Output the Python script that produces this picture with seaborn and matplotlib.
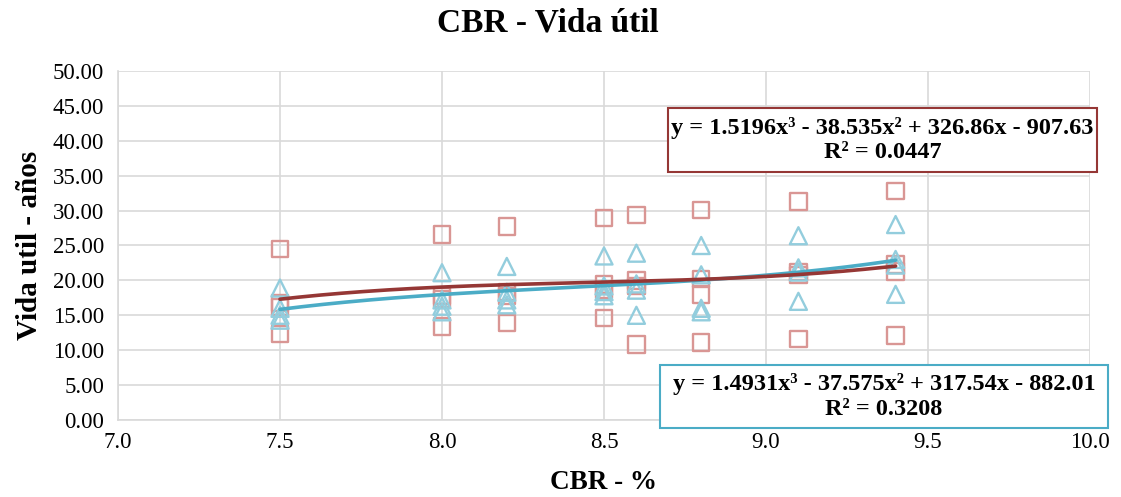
import numpy as np
import pandas as pd
import matplotlib
matplotlib.use("Agg")
import matplotlib.pyplot as plt
from matplotlib.patches import Rectangle
import seaborn as sns

# CBR values (%) and service life (years) for the two series
cbr = [7.5, 8.0, 8.2, 8.5, 8.6, 8.8, 9.1, 9.4]

vida_cuadrados = [
    [24.5, 16.8, 16.2, 12.3],
    [26.6, 17.8, 17.3, 13.4],
    [27.7, 18.3, 17.8, 13.9],
    [28.9, 19.4, 18.6, 14.6],
    [29.4, 20.0, 19.2, 10.8],
    [30.1, 20.2, 18.0, 11.1],
    [31.3, 21.2, 20.8, 11.6],
    [32.8, 22.3, 21.3, 12.1],
]

vida_triangulos = [
    [18.9, 16.0, 15.0, 14.3],
    [21.1, 17.2, 16.3, 15.5],
    [22.0, 18.3, 17.2, 16.5],
    [23.5, 19.2, 18.4, 17.8],
    [23.9, 19.5, 18.6, 15.0],
    [25.0, 20.8, 16.0, 15.5],
    [26.4, 21.8, 21.2, 17.0],
    [28.0, 23.0, 22.2, 18.0],
]

# Cubic trend-line coefficients (highest power first) and R²
coef_rojo = [1.5196, -38.535, 326.86, -907.63]
r2_rojo = 0.0447
coef_azul = [1.4931, -37.575, 317.54, -882.01]
r2_azul = 0.3208

x_ticks = [7.0, 7.5, 8.0, 8.5, 9.0, 9.5, 10.0]
y_ticks = [0, 5, 10, 15, 20, 25, 30, 35, 40, 45, 50]

titulo = "CBR - Vida útil"
etiqueta_x = "CBR - %"
etiqueta_y = "Vida util - años"

ROJO_MARCA = "#D99694"
AZUL_MARCA = "#93CDDD"
ROJO_LINEA = "#953735"
AZUL_LINEA = "#4BACC6"
GRIS = "#D9D9D9"

W, H = 1121, 497


def long_form(xs, rows, name):
    recs = []
    for x, vals in zip(xs, rows):
        for v in vals:
            recs.append({"cbr": x, "vida": v, "serie": name})
    return pd.DataFrame(recs)


def eq_text(coef, r2):
    a, b, c, d = coef
    sb = "-" if b < 0 else "+"
    sc = "-" if c < 0 else "+"
    sd = "-" if d < 0 else "+"
    return (f"y = {a:.4f}x³ {sb} {abs(b):.3f}x² {sc} {abs(c):.2f}x {sd} {abs(d):.2f}\n"
            f"R² = {r2:.4f}")


def label_box(fig, text, x0, y0, x1, y1, edge):
    # box given in pixels from the top-left corner of the figure
    fig.add_artist(Rectangle((x0 / W, 1 - y1 / H), (x1 - x0) / W, (y1 - y0) / H,
                             transform=fig.transFigure, facecolor="white",
                             edgecolor=edge, linewidth=1.5, zorder=5))
    fig.text((x0 + x1) / 2 / W, 1 - (y0 + y1) / 2 / H, text, ha="center", va="center",
             ma="center", fontsize=17.5, fontweight="bold", linespacing=1.2, zorder=6)


df_sq = long_form(cbr, vida_cuadrados, "cuadrados")
df_tr = long_form(cbr, vida_triangulos, "triangulos")

xs = np.linspace(min(cbr), max(cbr), 200)
df_fit_r = pd.DataFrame({"cbr": xs, "vida": np.polyval(coef_rojo, xs)})
df_fit_a = pd.DataFrame({"cbr": xs, "vida": np.polyval(coef_azul, xs)})

sns.set_theme(style="white")
plt.rcParams["font.family"] = ["Liberation Serif", "DejaVu Serif"]
plt.rcParams["text.color"] = "black"
plt.rcParams["axes.labelcolor"] = "black"

fig = plt.figure(figsize=(W / 100, H / 100), dpi=100)
ax = fig.add_axes([118 / W, 1 - 420 / H, (1090 - 118) / W, (420 - 71) / H])

sns.scatterplot(data=df_sq, x="cbr", y="vida", marker="s", s=140,
                facecolor="none", edgecolor=ROJO_MARCA, linewidth=1.7,
                ax=ax, zorder=3, legend=False)
sns.scatterplot(data=df_tr, x="cbr", y="vida", marker="^", s=150,
                facecolor="none", edgecolor=AZUL_MARCA, linewidth=1.7,
                ax=ax, zorder=3, legend=False)
sns.lineplot(data=df_fit_a, x="cbr", y="vida", color=AZUL_LINEA, linewidth=2.6,
             ax=ax, zorder=4, legend=False)
sns.lineplot(data=df_fit_r, x="cbr", y="vida", color=ROJO_LINEA, linewidth=2.6,
             ax=ax, zorder=4, legend=False)

ax.set_xlim(7.0, 10.0)
ax.set_ylim(0, 50)
ax.set_xticks(x_ticks)
ax.set_yticks(y_ticks)
ax.set_xticklabels([f"{t:.1f}" for t in x_ticks])
ax.set_yticklabels([f"{t:.2f}" for t in y_ticks])
ax.tick_params(axis="y", length=0, labelsize=16.5, colors="black", pad=10)
ax.tick_params(axis="x", length=0, labelsize=16.5, colors="black", pad=9)
ax.grid(True, color=GRIS, linewidth=1.2)
ax.set_axisbelow(True)
for side in ["top", "right"]:
    ax.spines[side].set_visible(False)
for side in ["left", "bottom"]:
    ax.spines[side].set_color(GRIS)
    ax.spines[side].set_linewidth(1.2)

ax.set_xlabel(etiqueta_x, fontsize=19.5, fontweight="bold", labelpad=12)
ax.set_ylabel(etiqueta_y, fontsize=21, fontweight="bold", labelpad=7)
fig.suptitle(titulo, x=0.489, y=0.985, fontsize=24, fontweight="bold")

# Trend-line equation boxes
label_box(fig, eq_text(coef_rojo, r2_rojo), 668, 108, 1097, 172, ROJO_LINEA)
label_box(fig, eq_text(coef_azul, r2_azul), 660, 365, 1108, 428, AZUL_LINEA)

fig.savefig("out.png", dpi=100, facecolor="white")
